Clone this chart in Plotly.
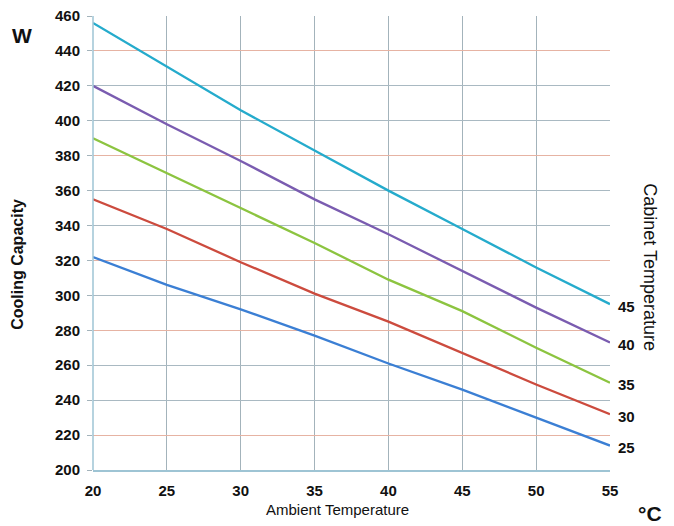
import plotly.graph_objects as go

ambient = [20, 25, 30, 35, 40, 45, 50, 55]
cabinet_labels = ["45", "40", "35", "30", "25"]
cap_45 = [456, 431, 406, 383, 360, 338, 316, 295]
cap_40 = [420, 398, 377, 355, 335, 314, 293, 273]
cap_35 = [390, 370, 350, 330, 309, 291, 270, 250]
cap_30 = [355, 338, 319, 301, 285, 267, 249, 232]
cap_25 = [322, 306, 292, 277, 261, 246, 230, 214]
series = [cap_45, cap_40, cap_35, cap_30, cap_25]
colors = ["#25abcc", "#7a5cb0", "#8cc440", "#cc4b3e", "#3b7fd4"]

grey_ticks = [200, 240, 260, 300, 340, 360, 400, 420, 460]
salmon_ticks = [220, 280, 320, 380, 440]

FONT = "Liberation Sans, Arial, sans-serif"
fig = go.Figure()
for name, vals, c in zip(cabinet_labels, series, colors):
    fig.add_trace(go.Scatter(x=ambient, y=vals, mode="lines", name=name,
                             line=dict(color=c, width=2.3), showlegend=False))
    fig.add_annotation(x=ambient[-1], y=vals[-1], text="<b>" + name + "</b>",
                       xref="x", yref="y", showarrow=False, xanchor="left",
                       xshift=6, yshift=-2,
                       font=dict(family=FONT, size=15, color="#111"))

fig.add_trace(go.Scatter(x=[ambient[0]], y=[grey_ticks[0]], yaxis="y2", mode="markers",
                         marker=dict(opacity=0), showlegend=False, hoverinfo="skip"))

common_y = dict(range=[200, 460], showline=False, zeroline=False, automargin=False,
                ticks="outside", ticklen=5, tickcolor="#a3b3bb",
                tickfont=dict(family=FONT, size=15, color="#111"),
                ticklabelstandoff=4, ticklabeloverflow="allow")

fig.update_layout(
    width=666, height=518,
    margin=dict(l=85, r=64, t=8, b=56),
    paper_bgcolor="white", plot_bgcolor="white",
    font=dict(family=FONT, color="#111"),
    xaxis=dict(range=[20, 55], tickvals=ambient, ticktext=[f"<b>{v}</b>" for v in ambient],
               showgrid=True, gridcolor="#a3b3bb", gridwidth=1,
               showline=True, linecolor="#9ec4d4", linewidth=1.5, mirror=False,
               ticks="", tickfont=dict(family=FONT, size=15, color="#111"),
               ticklabelstandoff=6, automargin=False, zeroline=False),
    yaxis=dict(tickvals=grey_ticks, ticktext=[f"<b>{v}</b>" for v in grey_ticks],
               showgrid=True, gridcolor="#a9b9c2", gridwidth=1, **common_y),
    yaxis2=dict(overlaying="y", side="left", tickvals=salmon_ticks,
                ticktext=[f"<b>{v}</b>" for v in salmon_ticks],
                showgrid=True, gridcolor="#e6b3a3", gridwidth=1, **common_y),
    shapes=[dict(type="line", xref="paper", yref="paper", x0=0, x1=0, y0=0, y1=1,
                 line=dict(color="#9ec4d4", width=1.5))],
)

fig.add_annotation(text="<b>Cooling Capacity</b>", x=-0.145, y=0.452, xref="paper", yref="paper",
                   xanchor="center", yanchor="middle", showarrow=False, textangle=-90,
                   font=dict(family=FONT, size=16, color="#111"))
fig.add_annotation(text="<b>W</b>", x=-0.137, y=0.956, xref="paper", yref="paper", showarrow=False,
                   font=dict(family=FONT, size=21, color="#111"), xanchor="center", yanchor="middle")
fig.add_annotation(text="<b>°C</b>", x=1.077, y=-0.095, xref="paper", yref="paper", showarrow=False,
                   font=dict(family=FONT, size=21, color="#111"), xanchor="center", yanchor="middle")
fig.add_annotation(text="Cabinet Temperature", x=1.077, y=0.447, xref="paper", yref="paper",
                   showarrow=False, textangle=90, font=dict(family=FONT, size=18, color="#111"),
                   xanchor="center", yanchor="middle")
fig.add_annotation(text="Ambient Temperature", x=0.472, y=-0.088, xref="paper", yref="paper",
                   showarrow=False, font=dict(family=FONT, size=15, color="#111"),
                   xanchor="center", yanchor="middle")

fig.write_html("out.html")
